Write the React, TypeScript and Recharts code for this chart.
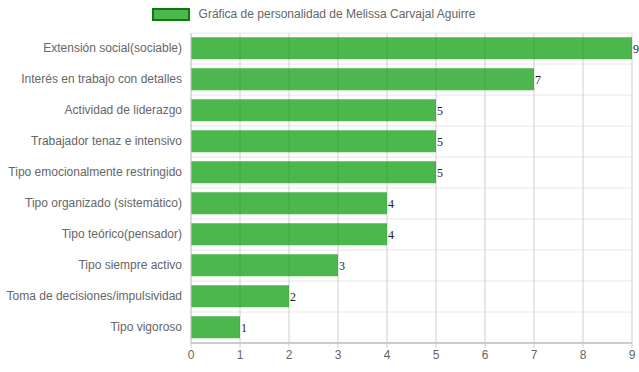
import React from 'react';
import { BarChart, Bar, XAxis, YAxis, CartesianGrid, Legend, LabelList } from 'recharts';

const traits = [
  'Extensión social(sociable)',
  'Interés en trabajo con detalles',
  'Actividad de liderazgo',
  'Trabajador tenaz e intensivo',
  'Tipo emocionalmente restringido',
  'Tipo organizado (sistemático)',
  'Tipo teórico(pensador)',
  'Tipo siempre activo',
  'Toma de decisiones/impulsividad',
  'Tipo vigoroso',
];
const scores = [9, 7, 5, 5, 5, 4, 4, 3, 2, 1];
const xTicks = [0, 1, 2, 3, 4, 5, 6, 7, 8, 9];
const seriesName = 'Gráfica de personalidad de Melissa Carvajal Aguirre';

const data = traits.map((name, i) => ({ name, value: scores[i] }));

const font = '"Liberation Sans", Arial, sans-serif';

const LegendBox = () => (
  <div style={{ display: 'flex', justifyContent: 'center', alignItems: 'center', fontFamily: font, fontSize: 12, color: '#666', height: 14 }}>
    <span style={{ display: 'inline-block', width: 34, height: 9, background: 'rgba(0,153,0,0.7)', border: '2px solid #0b7a0b', marginRight: 9 }} />
    <span>{seriesName}</span>
  </div>
);

const TraitTick = ({ x, y, payload }: any) => (
  <text x={x - 1} y={y} dy={3} textAnchor="end" fill="#666" fontSize={12} fontFamily={font}>
    {payload.value}
  </text>
);

const App: React.FC = () => {
  const bandGrid = ({ offset }: any) => {
    const step = offset.height / traits.length;
    return traits.map((_, i) => offset.top + step * i);
  };
  return (
    <div style={{ position: 'absolute', left: 0, top: 0 }}>
      <BarChart
        width={639}
        height={372}
        data={data}
        layout="vertical"
        margin={{ top: 19, right: 7, left: 0, bottom: 0 }}
        barCategoryGap="14%"
      >
        <CartesianGrid stroke="#e8e8e8" vertical={false} horizontalCoordinatesGenerator={bandGrid} />
        <CartesianGrid stroke="#cfcfcf" horizontal={false} />
        <Legend verticalAlign="top" height={14} content={<LegendBox />} wrapperStyle={{ top: 7, left: -6, width: 639 }} />
        <XAxis
          type="number"
          domain={[0, 9]}
          ticks={xTicks}
          interval={0}
          height={29}
          stroke="#999"
          tickLine={{ stroke: '#cfcfcf' }}
          tickSize={5}
          tick={{ fill: '#666', fontSize: 12, fontFamily: font }}
        />
        <YAxis
          type="category"
          dataKey="name"
          width={191}
          interval={0}
          axisLine={{ stroke: '#cfcfcf' }}
          tickLine={false}
          tick={<TraitTick />}
        />
        <Bar dataKey="value" fill="rgba(0,153,0,0.7)" isAnimationActive={false}>
          <LabelList dataKey="value" position="right" offset={1} style={{ fill: '#222', fontSize: 12, fontFamily: '"Liberation Serif", serif' }} />
        </Bar>
      </BarChart>
    </div>
  );
};

export default App;
